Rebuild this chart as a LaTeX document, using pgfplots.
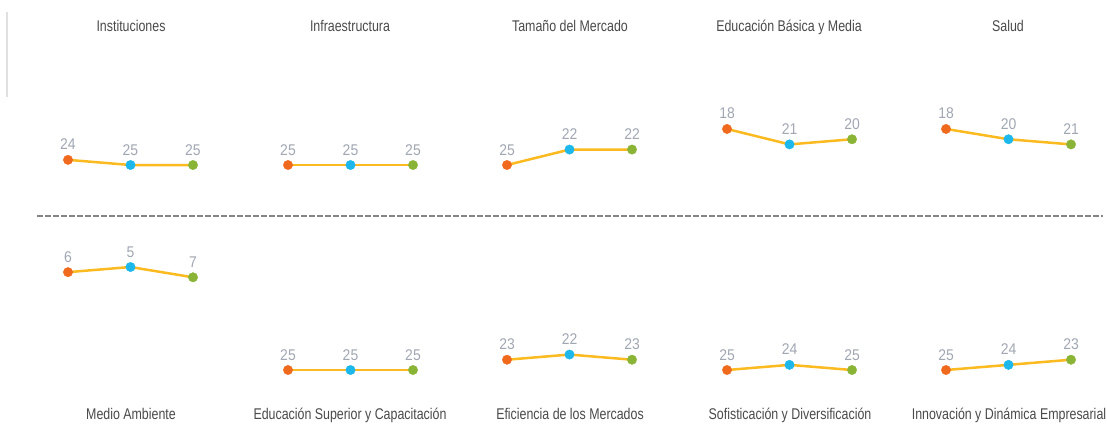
\documentclass[border=0pt]{standalone}
\usepackage{pgfplots}
\pgfplotsset{compat=1.18}
\usepackage{fontspec}
\setmainfont{Liberation Sans}
\newfontfamily\titlefont[FakeStretch=0.8]{Liberation Sans}
\newfontfamily\labelfont[FakeStretch=0.9]{Liberation Sans}
\definecolor{corange}{HTML}{F06A1E}
\definecolor{cblue}{HTML}{1CB8EC}
\definecolor{cgreen}{HTML}{8AB435}
\definecolor{cline}{HTML}{FBBA1F}
\definecolor{labelgray}{HTML}{A0A7B2}
\definecolor{titlegray}{HTML}{4A4A4A}
\pgfplotsset{
  panel/.style={scale only axis, width=125pt, height=144.2pt,
    xmin=0, xmax=2, ymin=0, ymax=28, y dir=reverse, hide axis, clip=false,
    anchor=north west},
  dot/.style={only marks, mark=*, mark size=4.7pt,
    nodes near coords={\labelfont\pgfmathprintnumber[assume math mode=true]{\pgfplotspointmeta}},
    nodes near coords align={anchor=base},
    every node near coord/.append style={font=\fontsize{15.5}{15.5}\selectfont, text=labelgray, anchor=base, yshift=10pt, inner sep=0pt}},
}
\newcommand\panel[5]{%
\begin{axis}[panel, at={(#1pt,#2pt)}]
\addplot[cline, line width=2.5pt, no marks] coordinates {(0,#3) (1,#4) (2,#5)};
\addplot[dot, color=corange] coordinates {(0,#3)};
\addplot[dot, color=cblue] coordinates {(1,#4)};
\addplot[dot, color=cgreen] coordinates {(2,#5)};
\end{axis}}
\begin{document}
\begin{tikzpicture}
\useasboundingbox (0,0) rectangle (1107pt,-424pt);
\draw[color=black!12, line width=2pt] (7pt,-12pt) -- (7pt,-97pt);
\draw[color=black!48, line width=2pt, dash pattern=on 6pt off 2pt] (37pt,-216pt) -- (1103pt,-216pt);
% top row
\panel{68}{-36.25}{24}{25}{25}
\panel{288}{-36.25}{25}{25}{25}
\panel{507}{-36.25}{25}{22}{22}
\panel{727}{-36.25}{18}{21}{20}
\panel{946}{-36.25}{18}{20}{21}
% bottom row
\panel{68}{-241.25}{6}{5}{7}
\panel{288}{-241.25}{25}{25}{25}
\panel{507}{-241.25}{23}{22}{23}
\panel{727}{-241.25}{25}{24}{25}
\panel{946}{-241.25}{25}{24}{23}
\tikzset{ttl/.style={anchor=base, text=titlegray, inner sep=0pt, font=\titlefont\fontsize{15.5}{15.5}\selectfont}}
\node[ttl] at (131pt,-31pt) {Instituciones};
\node[ttl] at (350pt,-31pt) {Infraestructura};
\node[ttl] at (570pt,-31pt) {Tamaño del Mercado};
\node[ttl] at (789pt,-31pt) {Educación Básica y Media};
\node[ttl] at (1008pt,-31pt) {Salud};
\node[ttl] at (131pt,-419pt) {Medio Ambiente};
\node[ttl] at (350pt,-419pt) {Educación Superior y Capacitación};
\node[ttl] at (570pt,-419pt) {Eficiencia de los Mercados};
\node[ttl] at (790pt,-419pt) {Sofisticación y Diversificación};
\node[ttl] at (1009pt,-419pt) {Innovación y Dinámica Empresarial};
\end{tikzpicture}
\end{document}
